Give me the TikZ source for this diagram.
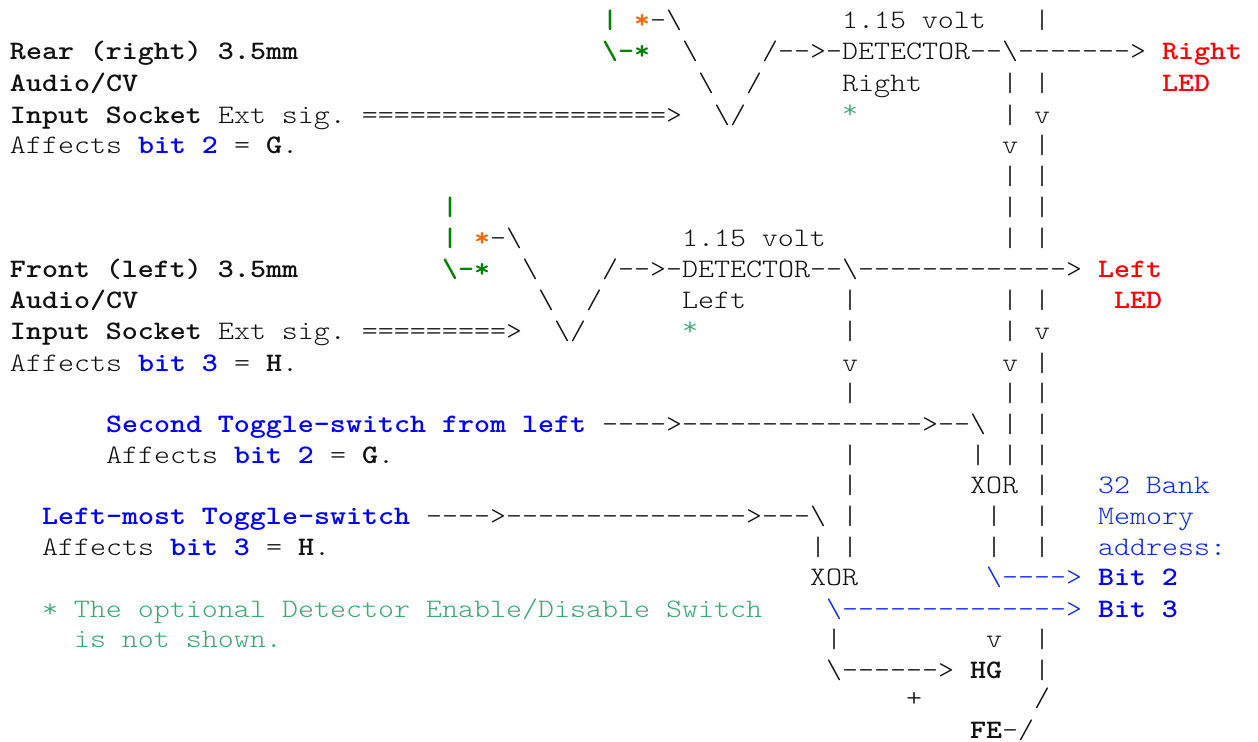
\documentclass[tikz,border=0pt]{standalone}
\usepackage{fontspec}
\setmonofont{Latin Modern Mono Light}[FakeStretch=1.143,BoldFont={LMMonoLt10-Bold}]
\definecolor{ink}{HTML}{111111}
\definecolor{gb}{HTML}{008000}
\definecolor{og}{HTML}{FF6600}
\definecolor{rd}{HTML}{FF0000}
\definecolor{bl}{HTML}{0000FF}
\definecolor{tb}{HTML}{0A28E8}
\definecolor{sg}{HTML}{3CA873}
\newcommand\bs{\textbackslash}
\newcount\tnum
\newcommand\T[4][]{\global\advance\tnum by 1
  \node[txt,#1] (t\the\tnum) at ({10+16.0*#2},{#3+8}) {#4};}
\tikzset{
  txt/.style={anchor=base west,inner sep=0pt,outer sep=0pt,text=ink,font=\fontsize{20}{24}\selectfont\ttfamily},
  bb/.style={font=\fontsize{20}{24}\selectfont\ttfamily\bfseries},
  gr/.style={bb,text=gb},
  or/.style={bb,text=og},
  re/.style={bb,text=rd},
  blb/.style={bb,text=bl},
  blt/.style={text=tb},
  sgt/.style={text=sg}
}
\begin{document}
\begin{tikzpicture}[x=0.75pt,y=-0.75pt]
\useasboundingbox[fill=white] (0,0) rectangle (1258,742);
% row 1
\T[gr]{37}{21}{|}\T[or]{39}{21}{*}\T{40}{21}{-\bs}\T{52}{21}{1.15 volt}\T{64}{21}{|}
% row 2
\T[bb]{0}{52}{Rear (right) 3.5mm}\T[gr]{37}{52}{\bs-*}\T{42}{52}{\bs}\T{47}{52}{/-->-DETECTOR--\bs------->}\T[re]{72}{52}{Right}
% row 3
\T[bb]{0}{84}{Audio/CV}\T{43}{84}{\bs}\T{46}{84}{/}\T{52}{84}{Right}\T{62}{84}{|}\T{64}{84}{|}\T[re]{72}{84}{LED}
% row 4
\T[bb]{0}{115}{Input Socket}\T{13}{115}{Ext sig. ===================>}\T{44}{115}{\bs/}\T[sgt]{52}{111}{*}\T{62}{115}{|}\T{64}{115}{v}
% row 5
\T{0}{146}{Affects}\T[blb]{8}{146}{bit 2}\T{14}{146}{=}\T[bb]{16}{146}{G}\T{17}{146}{.}\T{62}{146}{v}\T{64}{146}{|}
% row 6
\T{62}{177}{|}\T{64}{177}{|}
% row 7
\T[gr]{27}{207}{|}\T{62}{207}{|}\T{64}{207}{|}
% row 8
\T[gr]{27}{238}{|}\T[or]{29}{238}{*}\T{30}{238}{-\bs}\T{42}{238}{1.15 volt}\T{62}{238}{|}\T{64}{238}{|}
% row 9
\T[bb]{0}{269}{Front (left) 3.5mm}\T[gr]{27}{269}{\bs-*}\T{32}{269}{\bs}\T{37}{269}{/-->-DETECTOR--\bs------------->}\T[re]{68}{269}{Left}
% row 10
\T[bb]{0}{300}{Audio/CV}\T{33}{300}{\bs}\T{36}{300}{/}\T{42}{300}{Left}\T{52}{300}{|}\T{62}{300}{|}\T{64}{300}{|}\T[re]{69}{300}{LED}
% row 11
\T[bb]{0}{331}{Input Socket}\T{13}{331}{Ext sig. =========>}\T{34}{331}{\bs/}\T[sgt]{42}{327}{*}\T{52}{331}{|}\T{62}{331}{|}\T{64}{331}{v}
% row 12
\T{0}{363}{Affects}\T[blb]{8}{363}{bit 3}\T{14}{363}{=}\T[bb]{16}{363}{H}\T{17}{363}{.}\T{52}{363}{v}\T{62}{363}{v}\T{64}{363}{|}
% row 13
\T{52}{393}{|}\T{62}{393}{|}\T{64}{393}{|}
% row 14
\T[blb]{6}{424}{Second Toggle-switch from left}\T{37}{424}{---->--------------->--\bs}\T{62}{424}{|}\T{64}{424}{|}
% row 15
\T{6}{455}{Affects}\T[blb]{14}{455}{bit 2}\T{20}{455}{=}\T[bb]{22}{455}{G}\T{23}{455}{.}\T{52}{455}{|}\T{60}{455}{|}\T{62}{455}{|}\T{64}{455}{|}
% row 16
\T{52}{485}{|}\T{60}{485}{XOR}\T{64}{485}{|}\T[blt]{68}{485}{32 Bank}
% row 17
\T[blb]{2}{516}{Left-most Toggle-switch}\T{26}{516}{---->--------------->---\bs}\T{52}{516}{|}\T{61}{516}{|}\T{64}{516}{|}\T[blt]{68}{516}{Memory}
% row 18
\T{2}{547}{Affects}\T[blb]{10}{547}{bit 3}\T{16}{547}{=}\T[bb]{18}{547}{H}\T{19}{547}{.}\T{50}{547}{|}\T{52}{547}{|}\T{61}{547}{|}\T{64}{547}{|}\T[blt]{68}{547}{address:}
% row 19
\T{50}{577}{XOR}\T[blt]{61}{577}{\bs---->}\T[blb]{68}{577}{Bit 2}
% row 20
\T[sgt]{2}{609}{* The optional Detector Enable/Disable Switch}\T[blt]{51}{609}{\bs-------------->}\T[blb]{68}{609}{Bit 3}
% row 21
\T[sgt]{4}{639}{is not shown.}\T{51}{639}{|}\T{61}{639}{v}\T{64}{639}{|}
% row 22
\T{51}{670}{\bs------>}\T[bb]{60}{670}{HG}\T{64}{670}{|}
% row 23
\T{56}{698}{+}\T{64}{698}{/}
% row 24
\T[bb]{60}{730}{FE}\T{62}{730}{-/}
\end{tikzpicture}
\end{document}
